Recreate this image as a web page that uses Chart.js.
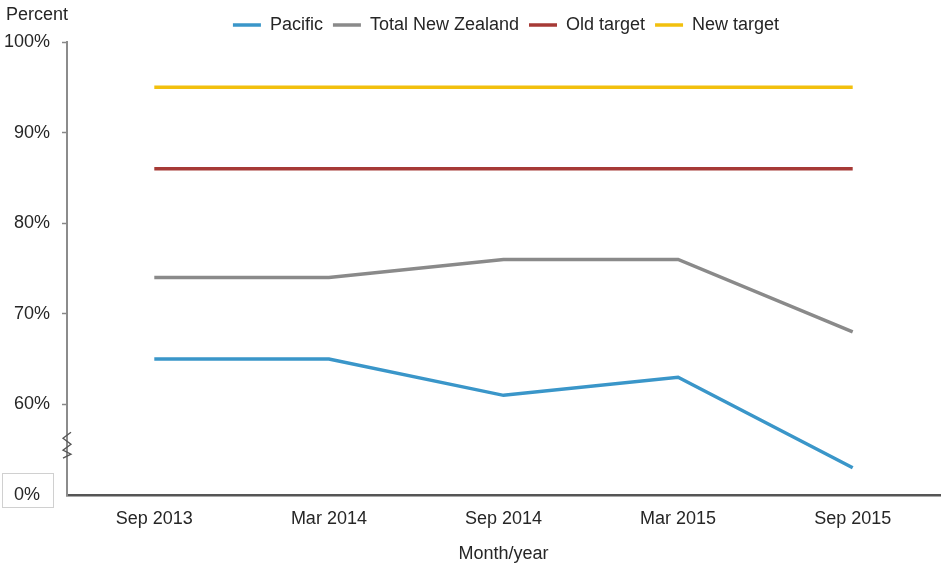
<!DOCTYPE html>
<html lang="en">
<head>
    <meta charset="UTF-8">
    <title>Immunisation coverage</title>
    <script src="https://cdn.jsdelivr.net/npm/chart.js"></script>
    <style>
        html, body {
            margin: 0;
            padding: 0;
            background: #ffffff;
        }

        #wrap {
            position: relative;
            width: 942px;
            height: 567px;
        }
    </style>
</head>
<body>

<div id="wrap">
    <canvas id="lineChart"></canvas>
</div>

<script>
    // values (percent); the axis is broken below 60%
    const labels = ['Sep 2013', 'Mar 2014', 'Sep 2014', 'Mar 2015', 'Sep 2015'];
    const pacific = [65, 65, 61, 63, 53];
    const totalNZ = [74, 74, 76, 76, 68];
    const oldTarget = [86, 86, 86, 86, 86];
    const newTarget = [95, 95, 95, 95, 95];
    const yTicks = [50, 60, 70, 80, 90, 100];

    const FONT = '"Liberation Sans", Arial, sans-serif';
    const TEXT = '#262626';

    function line(label, data, color) {
        return {
            label: label,
            data: data,
            borderColor: color,
            backgroundColor: color,
            borderWidth: 3.5,
            pointRadius: 0,
            tension: 0
        };
    }

    // "Percent" label, boxed "0%" and the zigzag axis break
    const extras = {
        id: 'extras',
        afterLayout(chart) {
            // legend sits a little right of the canvas centre in the original
            chart.legend.left += 36;
            chart.legend.right += 36;
            chart.legend.top += 2;
            chart.legend.bottom += 2;
        },
        beforeDraw(chart) {
            const ctx = chart.ctx;
            const y = chart.scales.y;
            const y0 = y.getPixelForValue(50);
            ctx.save();
            ctx.fillStyle = '#ffffff';
            ctx.strokeStyle = '#d0d0d0';
            ctx.lineWidth = 1;
            ctx.fillRect(2.5, y0 - 21.5, 51, 34);
            ctx.strokeRect(2.5, y0 - 21.5, 51, 34);
            ctx.restore();
        },
        afterDraw(chart) {
            const ctx = chart.ctx;
            const y = chart.scales.y;
            const ax = chart.chartArea.left;
            const mid = y.getPixelForValue(55.5);
            ctx.save();
            ctx.fillStyle = TEXT;
            ctx.font = '18px ' + FONT;
            ctx.textBaseline = 'middle';
            ctx.textAlign = 'left';
            ctx.fillText('Percent', 6, 15);

            ctx.strokeStyle = '#555555';
            ctx.lineWidth = 1.3;
            ctx.beginPath();
            ctx.moveTo(ax + 4, mid - 13);
            ctx.lineTo(ax - 4, mid - 7);
            ctx.lineTo(ax + 4, mid - 1);
            ctx.lineTo(ax - 4, mid + 5);
            ctx.lineTo(ax + 4, mid + 9);
            ctx.lineTo(ax - 4, mid + 13);
            ctx.stroke();
            ctx.restore();
        }
    };

    new Chart(document.getElementById('lineChart').getContext('2d'), {
        type: 'line',
        data: {
            labels: labels,
            datasets: [
                line('Pacific', pacific, '#3a96c9'),
                line('Total New Zealand', totalNZ, '#8a8a8a'),
                line('Old target', oldTarget, '#a63a36'),
                line('New target', newTarget, '#f2c00e')
            ]
        },
        options: {
            responsive: true,
            maintainAspectRatio: false,
            animation: false,
            layout: {padding: {top: 4, right: 2, left: 0, bottom: 0}},
            plugins: {
                legend: {
                    position: 'top',
                    labels: {
                        usePointStyle: true,
                        pointStyle: 'line',
                        pointStyleWidth: 28,
                        boxHeight: 4,
                        padding: 10,
                        color: TEXT,
                        font: {family: FONT, size: 18}
                    }
                },
                tooltip: {enabled: false}
            },
            scales: {
                x: {
                    offset: true,
                    grid: {display: false},
                    border: {display: true, color: '#555555', width: 2.5},
                    afterFit: (scale) => {
                        scale.height = 72;
                    },
                    ticks: {color: TEXT, font: {family: FONT, size: 18}, padding: 5},
                    title: {
                        display: true,
                        text: 'Month/year',
                        color: TEXT,
                        font: {family: FONT, size: 18},
                        padding: {top: 10, bottom: 2}
                    }
                },
                y: {
                    min: 50,
                    max: 100,
                    afterBuildTicks: (scale) => {
                        scale.ticks = yTicks.map(v => ({value: v}));
                    },
                    afterFit: (scale) => {
                        scale.width = 67;
                    },
                    grid: {
                        display: true,
                        drawOnChartArea: false,
                        drawTicks: true,
                        tickLength: 5,
                        tickWidth: 1.5,
                        tickColor: (c) => c.tick && c.tick.value === 50 ? 'rgba(0,0,0,0)' : '#888888'
                    },
                    border: {display: true, color: '#8c8c8c', width: 2},
                    ticks: {
                        color: TEXT,
                        font: {family: FONT, size: 18},
                        padding: 12,
                        callback: (v) => v === 50 ? '0%  ' : v + '%'
                    }
                }
            }
        },
        plugins: [extras]
    });
</script>

</body>
</html>
